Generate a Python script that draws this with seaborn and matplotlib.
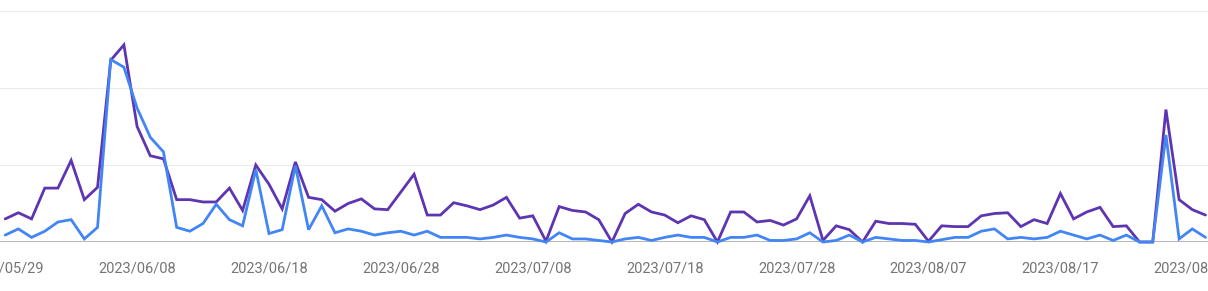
import numpy as np
import pandas as pd
import matplotlib
matplotlib.use("Agg")
import matplotlib.pyplot as plt
import matplotlib.dates as mdates
import seaborn as sns

start_date = "2023-05-29"
n_days = 92

impressions = [30, 38, 30, 70, 70, 106, 55, 71, 236, 256,
               150, 112, 108, 55, 55, 52, 52, 70, 41, 100,
               75, 43, 104, 58, 55, 40, 50, 56, 43, 42,
               65, 88, 35, 35, 51, 47, 42, 48, 58, 31,
               34, 1, 46, 41, 39, 29, 0, 37, 49, 39,
               35, 25, 34, 29, 0, 39, 39, 26, 28, 22,
               30, 60, 2, 21, 16, 0, 27, 24, 24, 23,
               1, 21, 20, 20, 34, 37, 38, 20, 29, 24,
               63, 30, 39, 45, 20, 21, 0, 0, 172, 55,
               42, 35]
clicks = [9, 17, 6, 14, 26, 29, 4, 19, 237, 227,
          174, 136, 117, 19, 14, 24, 49, 29, 21, 94,
          11, 16, 99, 16, 47, 12, 17, 14, 9, 12,
          14, 9, 14, 6, 6, 6, 4, 6, 9, 6,
          4, 0, 12, 4, 4, 2, 0, 4, 6, 2,
          6, 9, 6, 6, 0, 6, 6, 9, 2, 2,
          4, 12, 0, 2, 9, 0, 6, 4, 2, 2,
          0, 3, 6, 6, 14, 17, 4, 6, 4, 6,
          14, 9, 4, 9, 2, 9, 0, 0, 139, 4,
          17, 6]
series_names = ["impressions", "clicks"]
series_colors = ["#5e35b1", "#4285f4"]

dates = pd.date_range(start_date, periods=n_days, freq="D")
df = pd.concat([
    pd.DataFrame({"date": dates, "value": impressions, "series": series_names[0]}),
    pd.DataFrame({"date": dates, "value": clicks, "series": series_names[1]}),
])

sns.set_theme(style="white")
plt.rcParams["font.family"] = ["Roboto", "DejaVu Sans"]

W, H = 1208, 291
fig = plt.figure(figsize=(W / 100, H / 100), dpi=100)
ax = fig.add_axes([0, 49 / H, 1, 242 / H])

sns.lineplot(data=df, x="date", y="value", hue="series", hue_order=series_names,
             palette=series_colors, linewidth=2.0, legend=False, ax=ax, zorder=3)
for ln in ax.get_lines():
    ln.set_clip_on(False)
    ln.set_solid_joinstyle("miter")

for v in [100, 200, 300]:
    ax.axhline(v, color="#ececec", linewidth=0.8, zorder=1)
ax.axhline(0, color="#9e9e9e", linewidth=1.8, zorder=2)

d0 = mdates.date2num(dates[0])
ax.set_xlim(d0 - 0.394, d0 + 91.19)
ax.set_ylim(0, 242 / 0.77)

ticks = [dates[i] for i in range(0, n_days, 10)]
ax.set_xticks(ticks)
ax.xaxis.set_major_formatter(mdates.DateFormatter("%Y/%m/%d"))
ax.tick_params(axis="x", length=0, pad=14, labelsize=10.5, labelcolor="#757575")
ax.set_yticks([])
ax.set_xlabel("")
ax.set_ylabel("")
for s in ax.spines.values():
    s.set_visible(False)

fig.savefig("out.png", dpi=100)
